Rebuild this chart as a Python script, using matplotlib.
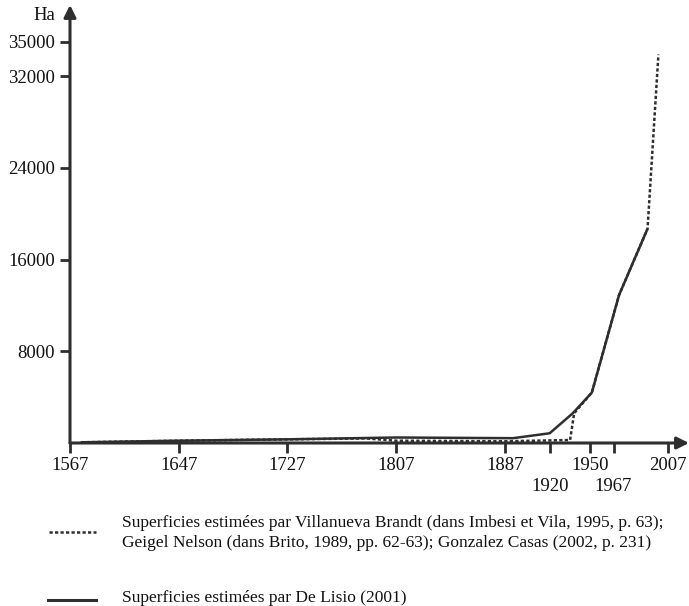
# Surface estimates (ha) over time, two sources, with arrow axes and a
# hand-placed legend below the plot

import matplotlib.pyplot as plt

plt.rcParams["font.family"] = ["Liberation Serif", "DejaVu Serif"]

# data
# ---

# De Lisio (2001), solid line
years_solid = [1575, 1647, 1727, 1807, 1893, 1920, 1937, 1951, 1971, 1992]
ha_solid = [60, 200, 320, 480, 420, 850, 2600, 4400, 12900, 18700]

# Villanueva Brandt / Geigel Nelson / Gonzalez Casas, dotted line
years_dot = [1575, 1647, 1727, 1785, 1807, 1887, 1935, 1938, 1951, 1971, 1992, 2000]
ha_dot = [60, 200, 320, 400, 200, 150, 260, 2600, 4400, 12900, 18700, 33900]

xticks_top = [1567, 1647, 1727, 1807, 1887, 1950, 2007]
xticks_low = [1920, 1967]  # labels on a second row
yticks = [8000, 16000, 24000, 32000, 35000]

legend_dot = ("Superficies estimées par Villanueva Brandt (dans Imbesi et Vila, 1995, p. 63);\n"
              "Geigel Nelson (dans Brito, 1989, pp. 62-63); Gonzalez Casas (2002, p. 231)")
legend_solid = "Superficies estimées par De Lisio (2001)"

ink = "#2e2e2e"
dots = (0, (1.3, 0.9))

# plot
# ---

W, H = 689, 606
fig = plt.figure(figsize=(W / 100, H / 100), dpi=100)

# axes box: y-axis at x=70px, x-axis at y=443px, arrow tips at the edges
ax = fig.add_axes([70 / W, (H - 443) / H, (689 - 70) / W, (443 - 5) / H])
ax.set_xlim(1567, 2022.5)
ax.set_ylim(0, 38220)

ax.plot(years_dot, ha_dot, color=ink, lw=1.8, ls=dots)
ax.plot(years_solid, ha_solid, color=ink, lw=1.8, solid_capstyle="butt")

for s in ["top", "right", "left", "bottom"]:
    ax.spines[s].set_visible(False)

# axes drawn as arrows
arrow = dict(arrowstyle="-|>", lw=2.2, color=ink, mutation_scale=18,
             shrinkA=0, shrinkB=0)
ax.annotate("", xy=(1, 0), xytext=(0, 0), xycoords="axes fraction",
            arrowprops=arrow, annotation_clip=False)
ax.annotate("", xy=(0, 1), xytext=(0, 0), xycoords="axes fraction",
            arrowprops=arrow, annotation_clip=False)

ax.set_yticks(yticks)
ax.set_yticklabels([str(v) for v in yticks])
ax.set_xticks(xticks_top)
ax.set_xticklabels([str(v) for v in xticks_top])
ax.set_xticks(xticks_low, minor=True)
ax.set_xticklabels([str(v) for v in xticks_low], minor=True)
ax.tick_params(axis="both", which="both", direction="out", length=7, width=2,
               color=ink, labelsize=13.5, labelcolor="#111111")
ax.tick_params(axis="y", pad=4)
ax.tick_params(axis="x", which="major", pad=3)
ax.tick_params(axis="x", which="minor", pad=18)

fig.text(44 / W, 1 - 15 / H, "Ha", fontsize=13.5, ha="center", va="center",
         color="#111111")

# legend by hand
fig.add_artist(plt.Line2D([49 / W, 96 / W], [1 - 532 / H] * 2, color=ink,
                          lw=1.8, ls=dots))
fig.add_artist(plt.Line2D([48 / W, 96 / W], [1 - 600 / H] * 2, color=ink,
                          lw=2.2))
fig.text(122 / W, 1 - 533 / H, legend_dot, fontsize=12.5, va="center", ha="left",
         linespacing=1.4, color="#111111")
fig.text(122 / W, 1 - 598 / H, legend_solid, fontsize=12.5, va="center", ha="left",
         color="#111111")

fig.savefig("out.png", dpi=100)
